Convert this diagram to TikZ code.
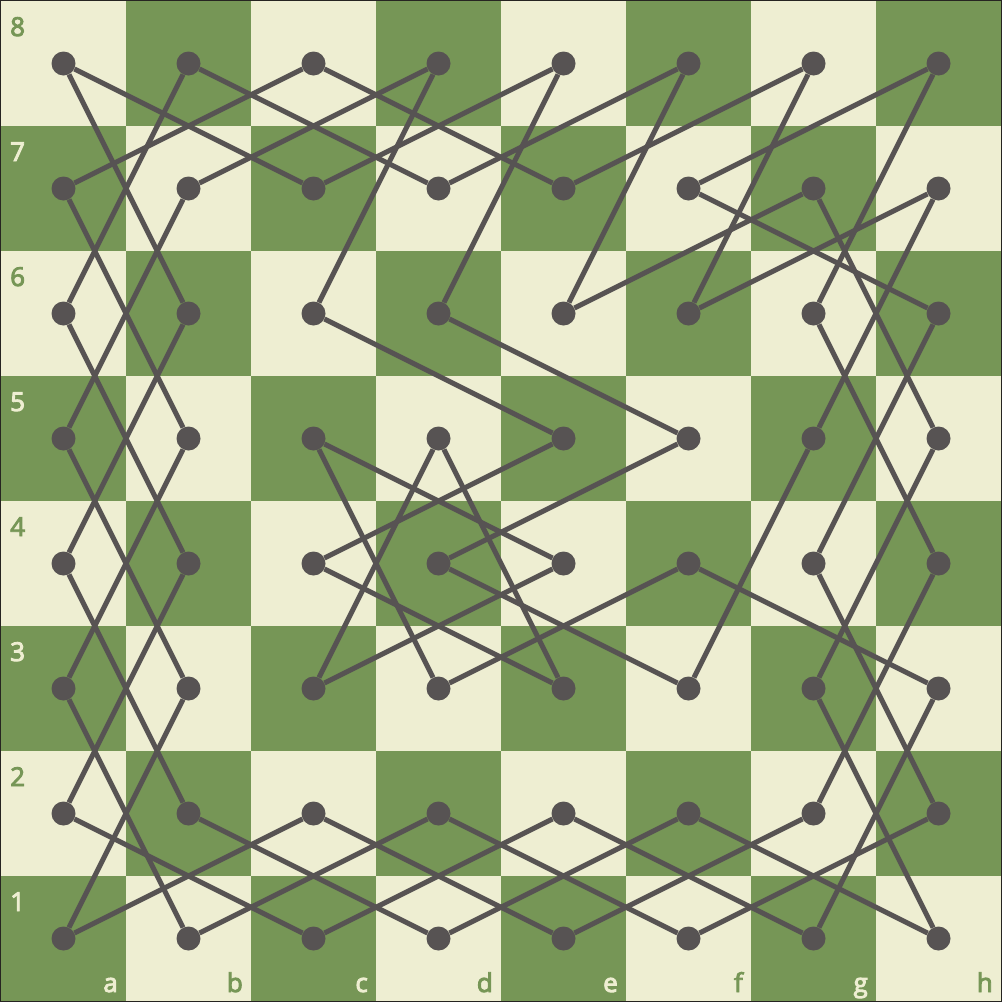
\documentclass[tikz,border=0pt]{standalone}
\usepackage{fontspec}
\setmainfont{Open Sans}
\newfontfamily\lblfont{Open Sans}[FakeBold=3.5]
\definecolor{lightsq}{HTML}{EEEED2}
\definecolor{darksq}{HTML}{769656}
\definecolor{tourline}{HTML}{575353}
\definecolor{framecol}{HTML}{262421}
\begin{document}
\begin{tikzpicture}[x=1pt,y=1pt,
  dot/.style={circle,fill=tourline,inner sep=0pt,minimum size=24pt},
  tourpath/.style={draw=tourline,line width=5pt},
  lbl/.style={font=\lblfont\fontsize{26}{26}\selectfont,inner sep=0pt}]
\fill[framecol] (0,0) rectangle (1002,-1002);
\useasboundingbox (0,0) rectangle (1002,-1002);
% squares
\foreach \i in {1,...,8} {\foreach \r in {1,...,8} {
  \pgfmathtruncatemacro\sqpar{mod(\i+\r,2)}
  \ifnum\sqpar=0 \def\sqcol{darksq}\else\def\sqcol{lightsq}\fi
  \fill[\sqcol] ({1+125*(\i-1)},{-(1+125*(8-\r))}) rectangle ++(125,-125);
}}
% rank labels
\foreach \r in {1,...,8} {
  \pgfmathtruncatemacro\sqpar{mod(\r,2)}
  \ifnum\sqpar=1 \def\lcol{lightsq}\else\def\lcol{darksq}\fi
  \node[lbl,text=\lcol,anchor=base west] (rank\r) at (10,{-(1+125*(8-\r)+35)}) {\r};
}
% file labels
\foreach \f [count=\i] in {a,b,c,d,e,f,g,h} {
  \pgfmathtruncatemacro\sqpar{mod(\i,2)}
  \ifnum\sqpar=1 \def\lcol{lightsq}\else\def\lcol{darksq}\fi
  \node[lbl,text=\lcol,anchor=base east] (file\f) at ({1+125*\i-8},-992) {\f};
}
% dots
\foreach \f [count=\i] in {a,b,c,d,e,f,g,h} {\foreach \r in {1,...,8} {
  \node[dot] (\f\r) at ({125*\i-61.5},{-(63.5+125*(8-\r))}) {};
}}
% knight moves
\foreach \u/\v in {a8/c7,a8/b6,b8/a6,b8/d7,c8/a7,c8/e7,d8/b7,d8/c6,e8/c7,e8/d6,f8/d7,f8/e6,g8/e7,g8/f6,h8/f7,h8/g6,
  a7/b5,b7/a5,f7/h6,g7/e6,g7/h5,h7/f6,h7/g5,
  a6/b4,b6/a4,c6/e5,d6/f5,g6/h4,h6/g4,
  a5/b3,b5/a3,c5/e4,c5/d3,d5/c3,d5/e3,e5/c4,f5/d4,g5/f3,h5/g3,
  a4/b2,b4/a2,c4/e3,d4/f3,e4/c3,f4/d3,f4/h3,g4/h2,h4/g2,
  a3/b1,b3/a1,g3/h1,h3/g1,
  a2/c1,b2/d1,c2/e1,c2/a1,d2/f1,d2/b1,e2/g1,e2/c1,f2/d1,f2/h1,g2/e1,h2/f1}
  \draw[tourpath] (\u) -- (\v);
\end{tikzpicture}
\end{document}
